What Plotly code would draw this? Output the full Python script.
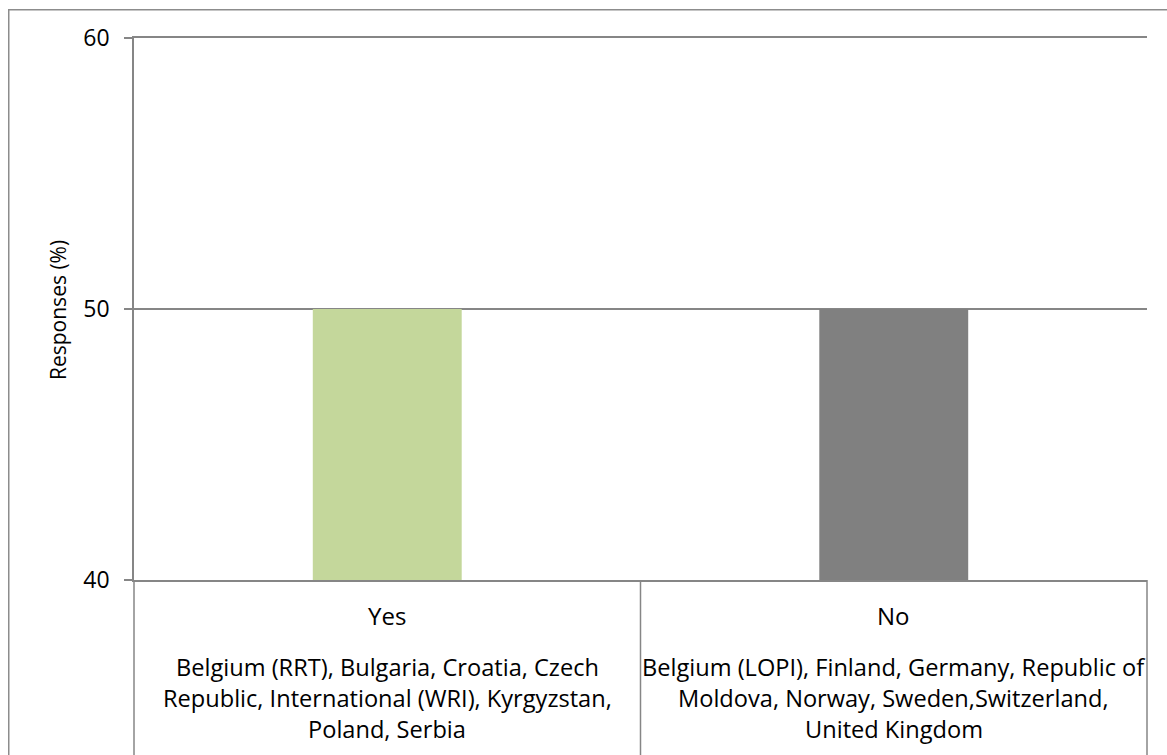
import plotly.graph_objects as go

categories = ["Yes", "No"]
values = [50, 50]
bar_colors = ["#C4D79B", "#808080"]
country_lines = [
    ["Belgium (RRT), Bulgaria, Croatia, Czech",
     "Republic, International (WRI), Kyrgyzstan,",
     "Poland, Serbia"],
    ["Belgium (LOPI), Finland, Germany, Republic of",
     "Moldova, Norway, Sweden,Switzerland,",
     "United Kingdom"],
]
y_ticks = [40, 50, 60]
y_title = "Responses (%)"

FONT = "Open Sans"
GRID = "#868686"

W, H = 1167, 755
L, T = 134, 38
pw, ph = 1013, 542
R = W - L - pw
B = H - T - ph


def py(page_y):
    return (T + ph - page_y) / ph


def pxx(page_x):
    return (page_x - L) / pw


fig = go.Figure()
fig.add_trace(go.Bar(x=categories, y=values, marker=dict(color=bar_colors, line=dict(width=0)),
                     width=0.294, showlegend=False, hoverinfo="skip"))

shapes = []
# outer border
shapes.append(dict(type="rect", xref="paper", yref="paper",
                   x0=pxx(8.75), x1=pxx(1185), y0=py(780), y1=py(9.75),
                   line=dict(color="#8C8C8C", width=1.5), layer="below"))
# table verticals
for xx in [0, 0.5, 1]:
    shapes.append(dict(type="line", xref="paper", yref="paper",
                       x0=xx, x1=xx, y0=0, y1=py(780),
                       line=dict(color=GRID, width=1.5)))

annotations = []
for i, cat in enumerate(categories):
    annotations.append(dict(x=cat, xref="x", y=py(615), yref="paper",
                            text=cat, showarrow=False, yanchor="middle",
                            font=dict(family=FONT, size=24, color="black")))
    for j, line in enumerate(country_lines[i]):
        annotations.append(dict(x=cat, xref="x", y=py(667 + 31 * j), yref="paper",
                                text=line, showarrow=False, yanchor="middle",
                                font=dict(family=FONT, size=23.6, color="black")))
annotations.append(dict(x=pxx(58), xref="paper", y=py(310), yref="paper",
                        text=y_title, textangle=-90, showarrow=False,
                        xanchor="center", yanchor="middle",
                        font=dict(family=FONT, size=21, color="black")))

fig.update_layout(
    width=W, height=H,
    margin=dict(l=L, r=R, t=T, b=B),
    paper_bgcolor="white", plot_bgcolor="white",
    shapes=shapes, annotations=annotations,
    xaxis=dict(showticklabels=False, showgrid=False, zeroline=False,
               showline=True, mirror=True, linecolor=GRID, linewidth=1.5,
               ticks="", range=[-0.5, 1.5]),
    yaxis=dict(range=[40, 60], tickvals=y_ticks, showgrid=True, gridcolor=GRID, gridwidth=1.5,
               showline=True, linecolor=GRID, linewidth=1.5, ticks="outside", ticklen=8,
               tickcolor=GRID, tickwidth=1.5, zeroline=False,
               tickfont=dict(family=FONT, size=23, color="black"), ticklabelstandoff=10),
    font=dict(family=FONT),
)

fig.write_html("out.html", config={"displayModeBar": False},
               post_script="document.body.style.margin='0';document.body.style.overflow='hidden';")
